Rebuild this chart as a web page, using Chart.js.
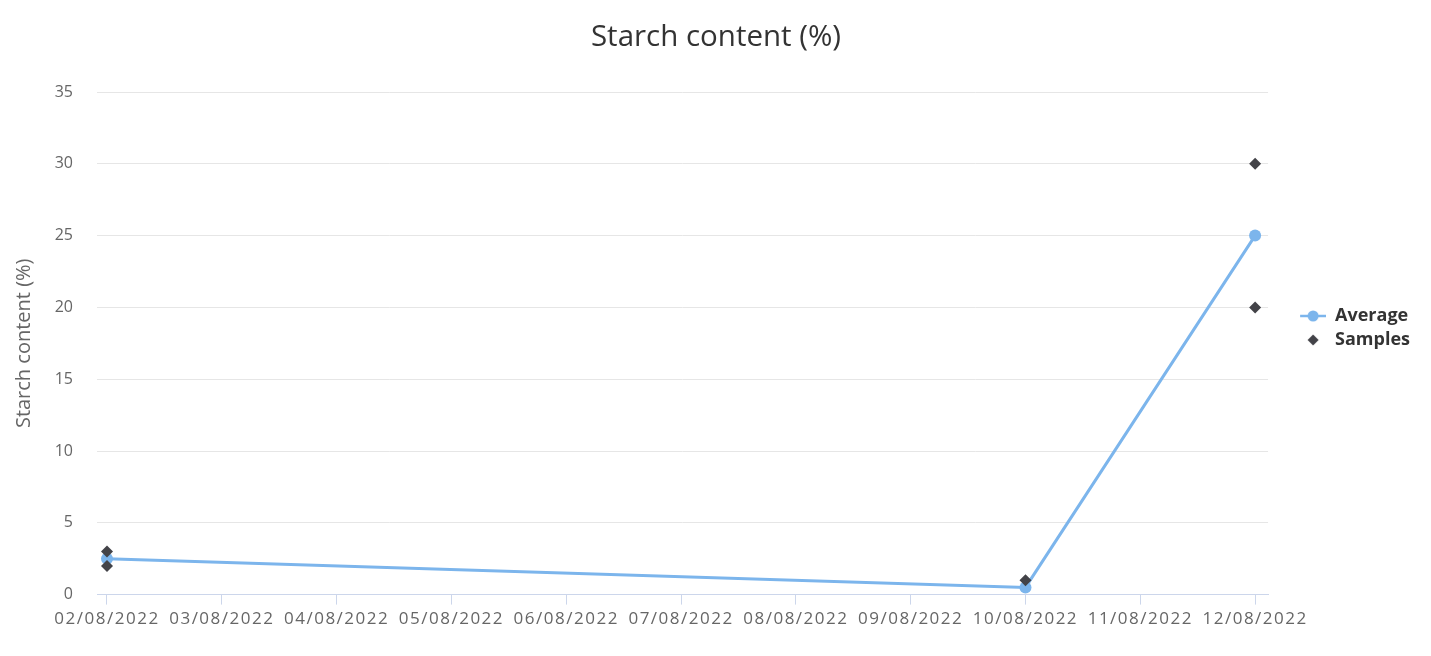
<!DOCTYPE html>
<html>
<head>
<meta charset="utf-8">
<script src="https://cdn.jsdelivr.net/npm/chart.js@4"></script>
<style>
  body { margin: 0; background: #fff; }
  #wrap { width: 1431px; height: 656px; position: relative; }
</style>
</head>
<body>
<div id="wrap"><canvas id="chart"></canvas></div>
<script>
var dates = ['02/08/2022', '03/08/2022', '04/08/2022', '05/08/2022', '06/08/2022', '07/08/2022',
  '08/08/2022', '09/08/2022', '10/08/2022', '11/08/2022', '12/08/2022']

var averageDates = ['02/08/2022', '10/08/2022', '12/08/2022']
var averageValues = [2.5, 0.5, 25]

var sampleDates = ['02/08/2022', '02/08/2022', '10/08/2022', '12/08/2022', '12/08/2022']
var sampleValues = [3, 2, 1, 30, 20]

var yTicks = [0, 5, 10, 15, 20, 25, 30, 35]

var FONT = "'Open Sans', sans-serif"
var lineColor = '#7cb5ec'
var sampleColor = '#434348'

function toPoints (ds, vs) {
  return ds.map(function (d, i) { return { x: dates.indexOf(d), y: vs[i] } })
}

// legend symbols
function legendLine () {
  var c = document.createElement('canvas')
  c.width = 52; c.height = 14
  var g = c.getContext('2d')
  g.strokeStyle = lineColor; g.lineWidth = 2.5
  g.beginPath(); g.moveTo(26, 7); g.lineTo(52, 7); g.stroke()
  g.fillStyle = lineColor
  g.beginPath(); g.arc(39, 7, 5.5, 0, Math.PI * 2); g.fill()
  return c
}
function legendDiamond () {
  var c = document.createElement('canvas')
  c.width = 52; c.height = 14
  var g = c.getContext('2d')
  g.fillStyle = sampleColor
  g.beginPath(); g.moveTo(39, 1.5); g.lineTo(44.5, 7); g.lineTo(39, 12.5); g.lineTo(33.5, 7); g.closePath(); g.fill()
  return c
}

var ctx = document.getElementById('chart').getContext('2d')
var chart = new Chart(ctx, {
  data: {
    datasets: [
      {
        type: 'scatter',
        label: 'Samples',
        data: toPoints(sampleDates, sampleValues),
        pointStyle: 'rectRot',
        pointRadius: 6,
        backgroundColor: sampleColor,
        borderWidth: 0
      },
      {
        type: 'line',
        label: 'Average',
        data: toPoints(averageDates, averageValues),
        borderColor: lineColor,
        borderWidth: 3,
        backgroundColor: lineColor,
        pointRadius: 6,
        pointBorderWidth: 0,
        tension: 0
      }
    ]
  },
  options: {
    responsive: true,
    maintainAspectRatio: false,
    animation: false,
    layout: { padding: { left: 12, right: 11 } },
    plugins: {
      tooltip: { enabled: false },
      title: {
        display: true,
        text: 'Starch content (%)',
        color: '#333333',
        font: { family: FONT, size: 29.5, weight: 'normal' },
        padding: { top: 20, bottom: 36.6 }
      },
      legend: {
        position: 'right',
        labels: {
          usePointStyle: true,
          pointStyleWidth: 52,
          padding: 6,
          color: '#333333',
          font: { family: FONT, size: 18, weight: 'bold' },
          generateLabels: function () {
            return [
              { text: 'Average', pointStyle: legendLine(), datasetIndex: 1, fontColor: '#333333', lineWidth: 0, strokeStyle: 'transparent', fillStyle: lineColor },
              { text: 'Samples', pointStyle: legendDiamond(), datasetIndex: 0, fontColor: '#333333', lineWidth: 0, strokeStyle: 'transparent', fillStyle: sampleColor }
            ]
          }
        }
      }
    },
    scales: {
      x: {
        type: 'linear',
        min: -0.087,
        max: 10.113,
        afterBuildTicks: function (scale) {
          scale.ticks = dates.map(function (d, i) { return { value: i } })
        },
        afterFit: function (scale) { scale.height += 23 },
        ticks: {
          autoSkip: false,
          maxRotation: 0,
          padding: 4,
          color: '#666666',
          font: { family: FONT, size: 17 },
          callback: function (v) { return dates[v] }
        },
        grid: { drawOnChartArea: false, color: '#ccd6eb', tickLength: 10 },
        border: { color: '#ccd6eb', width: 1 }
      },
      y: {
        min: 0,
        max: 35,
        afterBuildTicks: function (scale) {
          scale.ticks = yTicks.map(function (v) { return { value: v } })
        },
        afterFit: function (scale) { scale.width = 85 },
        ticks: {
          padding: 24,
          color: '#666666',
          font: { family: FONT, size: 16 }
        },
        grid: { color: '#e6e6e6', drawTicks: false },
        border: { display: false },
        title: {
          display: true,
          text: 'Starch content (%)',
          color: '#666666',
          font: { family: FONT, size: 20 },
          padding: { top: 0, bottom: 0 }
        }
      }
    }
  }
})

// date labels are spaced out a bit more than the plain font
var xs = chart.scales.x
var origDraw = xs.drawLabels
xs.drawLabels = function (area) {
  this.ctx.save()
  this.ctx.letterSpacing = '1.5px'
  origDraw.call(this, area)
  this.ctx.restore()
}
chart.draw()
</script>
</body>
</html>
